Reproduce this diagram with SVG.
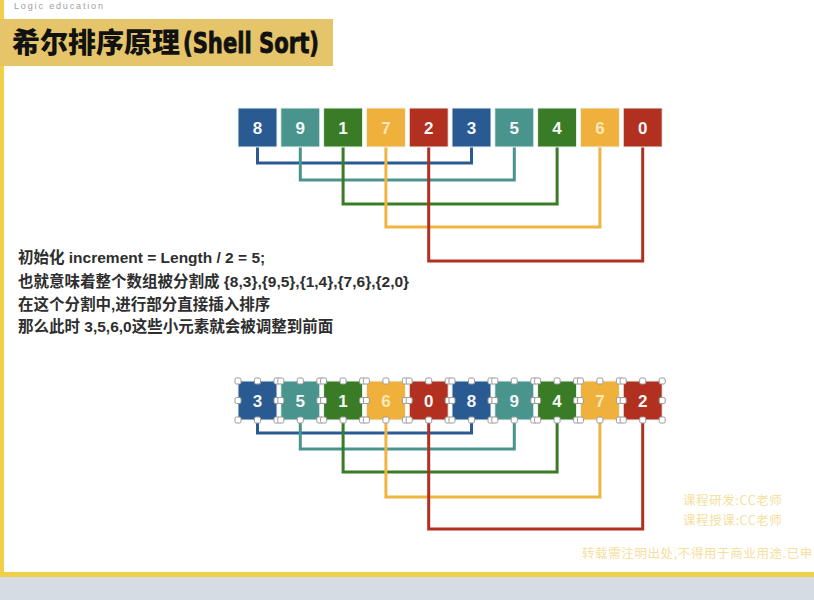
<svg xmlns="http://www.w3.org/2000/svg" width="814" height="600" viewBox="0 0 814 600">
<style>
.box{stroke:#eef4f4;stroke-width:1}
.b{fill:#2a5a92}.t{fill:#4a948e}.g{fill:#3a7c26}.y{fill:#f0b03c}.r{fill:#b1301f}
.num{font-family:"Liberation Sans",Arial,sans-serif;font-size:17px;font-weight:bold;fill:#f4f6f8;text-anchor:middle}
.ny{fill:#fbe7b8}
.cn{fill:none;stroke-width:3;stroke-linejoin:miter}
.cb{stroke:#2a5a92}.ct{stroke:#4a948e}.cg{stroke:#3a7c26}.cy{stroke:#f0b540}.cr{stroke:#b1301f}
.h{fill:#fff;stroke:#9a9a9a;stroke-width:1}
.body{font-family:"Liberation Sans","Noto Sans CJK SC",sans-serif;font-size:15.5px;font-weight:bold;fill:#2e2e2e}
.foot{font-family:"Noto Sans CJK SC",sans-serif;font-size:12.5px;fill:#f5e0a0;letter-spacing:0.6px}
</style>
<rect x="0" y="0" width="814" height="600" fill="#ffffff"/>
<rect x="0" y="0" width="4" height="577" fill="#f2cf48"/>
<rect x="0" y="572" width="814" height="5" fill="#f2cf48"/>
<rect x="0" y="577" width="814" height="23" fill="#d6dce3"/>
<text x="14" y="9" font-family="Liberation Sans,sans-serif" font-size="9" fill="#a0a0a0" textLength="89">Logic education</text>
<rect x="0" y="19" width="333" height="47" fill="#e6c46a"/>
<text x="12" y="53" font-family="Noto Sans CJK SC,sans-serif" font-size="28" font-weight="900" fill="#111">希尔排序原理</text>
<text x="183" y="53" font-family="DejaVu Sans Condensed,DejaVu Sans,sans-serif" font-size="28" font-weight="bold" fill="#111" stroke="#111" stroke-width="0.8" textLength="136" lengthAdjust="spacingAndGlyphs">(Shell Sort)</text>

<g id="connectors-top">
<polyline class="cn cb" points="257.5,147 257.5,163 471.5,163 471.5,147"/>
<polyline class="cn ct" points="300.3,147 300.3,180 514.3,180 514.3,147"/>
<polyline class="cn cg" points="343.1,147 343.1,204 557.1,204 557.1,147"/>
<polyline class="cn cy" points="385.9,147 385.9,227 599.9,227 599.9,147"/>
<polyline class="cn cr" points="428.7,147 428.7,261 642.7,261 642.7,147"/>
</g>
<g id="connectors-bottom">
<polyline class="cn cb" points="257.5,420 257.5,433 471.5,433 471.5,420"/>
<polyline class="cn ct" points="300.3,420 300.3,449 514.3,449 514.3,420"/>
<polyline class="cn cg" points="343.1,420 343.1,472 557.1,472 557.1,420"/>
<polyline class="cn cy" points="385.9,420 385.9,497 599.9,497 599.9,420"/>
<polyline class="cn cr" points="428.7,420 428.7,529 642.7,529 642.7,420"/>
</g>

<g id="top-0"><rect class="box b" x="238" y="108" width="39" height="39"/><text class="num" x="257.5" y="133.5">8</text></g>
<g id="top-1"><rect class="box t" x="280.8" y="108" width="39" height="39"/><text class="num" x="300.3" y="133.5">9</text></g>
<g id="top-2"><rect class="box g" x="323.6" y="108" width="39" height="39"/><text class="num" x="343.1" y="133.5">1</text></g>
<g id="top-3"><rect class="box y" x="366.4" y="108" width="39" height="39"/><text class="num ny" x="385.9" y="133.5">7</text></g>
<g id="top-4"><rect class="box r" x="409.2" y="108" width="39" height="39"/><text class="num" x="428.7" y="133.5">2</text></g>
<g id="top-5"><rect class="box b" x="452" y="108" width="39" height="39"/><text class="num" x="471.5" y="133.5">3</text></g>
<g id="top-6"><rect class="box t" x="494.8" y="108" width="39" height="39"/><text class="num" x="514.3" y="133.5">5</text></g>
<g id="top-7"><rect class="box g" x="537.6" y="108" width="39" height="39"/><text class="num" x="557.1" y="133.5">4</text></g>
<g id="top-8"><rect class="box y" x="580.4" y="108" width="39" height="39"/><text class="num ny" x="599.9" y="133.5">6</text></g>
<g id="top-9"><rect class="box r" x="623.2" y="108" width="39" height="39"/><text class="num" x="642.7" y="133.5">0</text></g>

<g id="text-body" class="body">
<text x="18" y="263">初始化 increment = Length / 2 = 5;</text>
<text x="18" y="287">也就意味着整个数组被分割成 {8,3},{9,5},{1,4},{7,6},{2,0}</text>
<text x="18" y="310">在这个分割中,进行部分直接插入排序</text>
<text x="18" y="332">那么此时 3,5,6,0这些小元素就会被调整到前面</text>
</g>

<defs>
<g id="handles">
<rect class="h" x="-3" y="-3" width="6" height="6" rx="1.5"/>
<rect class="h" x="16.5" y="-3" width="6" height="6" rx="1.5"/>
<rect class="h" x="36" y="-3" width="6" height="6" rx="1.5"/>
<rect class="h" x="-3" y="16.5" width="6" height="6" rx="1.5"/>
<rect class="h" x="36" y="16.5" width="6" height="6" rx="1.5"/>
<rect class="h" x="-3" y="36" width="6" height="6" rx="1.5"/>
<rect class="h" x="16.5" y="36" width="6" height="6" rx="1.5"/>
<rect class="h" x="36" y="36" width="6" height="6" rx="1.5"/>
</g>
</defs>

<g id="bot-0"><rect class="box b" x="238" y="381" width="39" height="39"/><text class="num" x="257.5" y="406.5">3</text><use href="#handles" x="238" y="381"/></g>
<g id="bot-1"><rect class="box t" x="280.8" y="381" width="39" height="39"/><text class="num" x="300.3" y="406.5">5</text><use href="#handles" x="280.8" y="381"/></g>
<g id="bot-2"><rect class="box g" x="323.6" y="381" width="39" height="39"/><text class="num" x="343.1" y="406.5">1</text><use href="#handles" x="323.6" y="381"/></g>
<g id="bot-3"><rect class="box y" x="366.4" y="381" width="39" height="39"/><text class="num ny" x="385.9" y="406.5">6</text><use href="#handles" x="366.4" y="381"/></g>
<g id="bot-4"><rect class="box r" x="409.2" y="381" width="39" height="39"/><text class="num" x="428.7" y="406.5">0</text><use href="#handles" x="409.2" y="381"/></g>
<g id="bot-5"><rect class="box b" x="452" y="381" width="39" height="39"/><text class="num" x="471.5" y="406.5">8</text><use href="#handles" x="452" y="381"/></g>
<g id="bot-6"><rect class="box t" x="494.8" y="381" width="39" height="39"/><text class="num" x="514.3" y="406.5">9</text><use href="#handles" x="494.8" y="381"/></g>
<g id="bot-7"><rect class="box g" x="537.6" y="381" width="39" height="39"/><text class="num" x="557.1" y="406.5">4</text><use href="#handles" x="537.6" y="381"/></g>
<g id="bot-8"><rect class="box y" x="580.4" y="381" width="39" height="39"/><text class="num ny" x="599.9" y="406.5">7</text><use href="#handles" x="580.4" y="381"/></g>
<g id="bot-9"><rect class="box r" x="623.2" y="381" width="39" height="39"/><text class="num" x="642.7" y="406.5">2</text><use href="#handles" x="623.2" y="381"/></g>

<g id="footer" class="foot">
<text x="683" y="505">课程研发:CC老师</text>
<text x="683" y="525">课程授课:CC老师</text>
<text x="582" y="558">转载需注明出处,不得用于商业用途.已申</text>
</g>
</svg>
